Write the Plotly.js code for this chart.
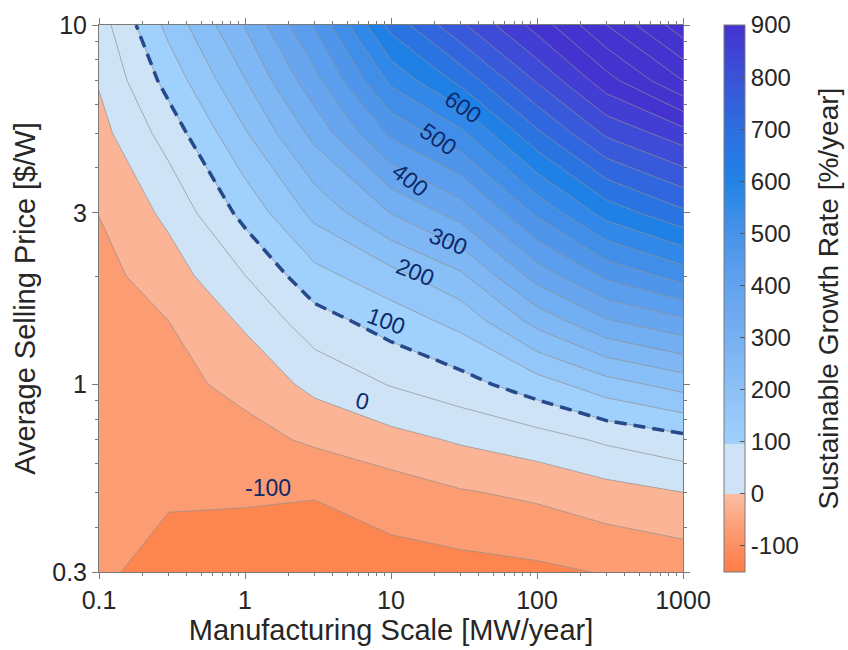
<!DOCTYPE html>
<html><head><meta charset="utf-8">
<script src="https://cdn.plot.ly/plotly-3.0.1.min.js"></script>
<style>html,body{margin:0;padding:0;background:#fff}</style>
</head><body><div id="chart" style="width:848px;height:650px"></div>
<script>
// Manufacturing scale [MW/year] (x grid)
const scaleMW = [0.1, 0.3, 1, 3, 10, 30, 100, 300, 1000];
// Average selling price [$/W] (y grid)
const pricePerW = [0.3, 0.5, 0.7, 1, 1.5, 2, 3, 5, 7, 10];
// Sustainable growth rate [%/year], rows follow pricePerW, columns follow scaleMW
const growth = [
  [-93, -115, -125, -128, -122, -118, -110, -97, -85],
  [-87, -95, -94, -97, -75, -54, -40, -19, 0],
  [-82, -81, -67, -42, -17, 6, 28, 58, 85],
  [-76, -66, -35, 14, 53, 81, 128, 180, 220],
  [-70, -50, 8, 79, 123, 166, 268, 345, 390],
  [-66, -25, 49, 133, 182, 240, 370, 460, 520],
  [-49, 12, 116, 214, 302, 371, 510, 620, 690],
  [-17, 71, 195, 316, 460, 539, 690, 810, 880],
  [4, 118, 248, 384, 561, 664, 805, 930, 1050],
  [26, 165, 303, 455, 667, 790, 920, 1050, 1180]
];
// contour labels shown on the chart
const labelText = ['600', '500', '400', '300', '200', '100', '0', '-100'];
// colour bar ticks
const cbTicks = [-100, 0, 100, 200, 300, 400, 500, 600, 700, 800, 900];
const xTicks = [0.1, 1, 10, 100, 1000];
const yTicks = [0.3, 1, 3, 10];

// ---- styling / placement (not data) ----
const bandValues = [-175,-125,-75,-25,25,75,125,175,225,275,325,375,425,475,525,575,625,675,725,775,825,875,925];
const bandColors = ['#ff7d45','#fd8650','#fc9c72','#fbb496','#cfe3f6','#cfe3f6','#a0d0fc','#94c7f9','#89bff7','#7eb7f4','#72aef2','#67a6ef','#5b9eed','#4f96eb','#418ee9','#3288e8','#1f80e6','#2a74e2','#3167de','#3759da','#3d4bd6','#423ed3','#4533d0'];
const cStart = -150, cEnd = 900, cSize = 50;
const lo = cStart - cSize/2, hi = cEnd + cSize/2;
const fillScale = bandValues.map((v, i) => [(v - lo) / (hi - lo), bandColors[i]]);

// continuous colour bar scale (value, colour)
const cbMin = -150, cbMax = 900;
const cbStopVals = [-150, -100, -50, -0.01, 0, 95, 95.01, 200, 300, 400, 500, 600, 700, 800, 900];
const cbStopCols = ['#ff7d45','#fd8f62','#fca57f','#fbbda2','#cfe3f6','#cfe3f6','#a0d0fc','#8cc1f7','#77b0f2','#62a2ee','#4893ea','#2283e6','#2d6fdf','#3a52d8','#4533d0'];
const cbScale = cbStopVals.map((v, i) => [(v - cbMin) / (cbMax - cbMin), cbStopCols[i]]);

const labelX = [31.1, 21, 13.5, 24.5, 14.6, 9.25, 6.33, 1.44];
const labelY = [5.92, 4.81, 3.70, 2.50, 2.05, 1.50, 0.897, 0.513];
const labelAng = [35, 35, 38, 22, 22, 20, 14, 0];

function minorVals(a, b) {
  const out = [];
  for (let e = a; e <= b; e++) for (let d = 2; d <= 9; d++) out.push(d * Math.pow(10, e));
  return out;
}

const font = 'Liberation Sans, Arial, sans-serif';
const ink = '#262626';
const pad = '\u00a0\u00a0\u00a0';
const traces = [
  {
    type: 'contour', x: scaleMW, y: pricePerW, z: growth, showscale: false,
    autocontour: false,
    contours: {start: cStart, end: cEnd, size: cSize, coloring: 'fill', showlines: true},
    line: {color: '#8f8f8f', width: 0.7, smoothing: 0},
    colorscale: fillScale, hoverinfo: 'skip'
  },
  {
    type: 'contour', x: scaleMW, y: pricePerW, z: growth, showscale: false,
    autocontour: false,
    contours: {start: cEnd + cSize, end: 1200, size: cSize, coloring: 'none'},
    line: {color: '#8f8f8f', width: 0.7, smoothing: 0}, hoverinfo: 'skip'
  },
  {
    type: 'contour', x: scaleMW, y: pricePerW, z: growth, showscale: false,
    autocontour: false,
    contours: {start: 100, end: 100, size: 1, coloring: 'none'},
    line: {color: '#27498b', width: 3.5, dash: '12px,7px', smoothing: 0}, hoverinfo: 'skip'
  },
  {
    // carries only the colour bar
    type: 'scatter', mode: 'markers', x: [null], y: [null], hoverinfo: 'skip',
    marker: {
      color: [0], cmin: cbMin, cmax: cbMax, colorscale: cbScale, showscale: true,
      colorbar: {
        x: 1.07, xanchor: 'left', xpad: 0, y: 0.5, yanchor: 'middle', ypad: 0, len: 1, lenmode: 'fraction',
        thickness: 21, outlinecolor: '#7a7a7a', outlinewidth: 1,
        ticks: 'inside', ticklen: 5, tickcolor: '#555',
        tickmode: 'array', tickvals: cbTicks, ticktext: cbTicks.map(v => String(v) + pad),
        tickfont: {family: font, size: 24, color: ink},
        title: {text: 'Sustainable Growth Rate [%/year]', side: 'right', font: {family: font, size: 28, color: ink}}
      }
    }
  }
];

const annotations = labelText.map((t, i) => ({
  x: Math.log10(labelX[i]), y: Math.log10(labelY[i]), xref: 'x', yref: 'y',
  text: t, showarrow: false, textangle: labelAng[i],
  font: {family: font, size: 23, color: '#0c2a6c'}
}));

const axisCommon = {
  type: 'log', showgrid: false, zeroline: false, showline: true, linecolor: '#7a7a7a', linewidth: 1,
  mirror: 'allticks', ticks: 'outside', ticklen: 6, tickcolor: '#7a7a7a',
  tickfont: {family: font, size: 25, color: ink}, automargin: false
};

const layout = {
  width: 848, height: 650,
  margin: {l: 99, r: 165, t: 25, b: 78, autoexpand: false},
  paper_bgcolor: '#fff', plot_bgcolor: '#fff',
  showlegend: false,
  xaxis: Object.assign({}, axisCommon, {
    range: [-1, 3], tickmode: 'array', tickvals: xTicks, ticktext: xTicks.map(String),
    minor: {tickmode: 'array', tickvals: minorVals(-1, 2), ticks: 'outside', ticklen: 3, tickcolor: '#7a7a7a'},
    title: {text: 'Manufacturing Scale [MW/year]', font: {family: font, size: 29, color: ink}, standoff: 2}
  }),
  yaxis: Object.assign({}, axisCommon, {
    range: [Math.log10(0.3), 1], tickmode: 'array', tickvals: yTicks, ticktext: yTicks.map(String),
    minor: {tickmode: 'array', tickvals: minorVals(-1, 0), ticks: 'outside', ticklen: 3, tickcolor: '#7a7a7a'},
    title: {text: 'Average Selling Price [$/W]', font: {family: font, size: 29, color: ink}, standoff: 8}
  }),
  annotations: annotations
};

Plotly.newPlot('chart', traces, layout, {displayModeBar: false, staticPlot: true});
</script>
</body></html>
